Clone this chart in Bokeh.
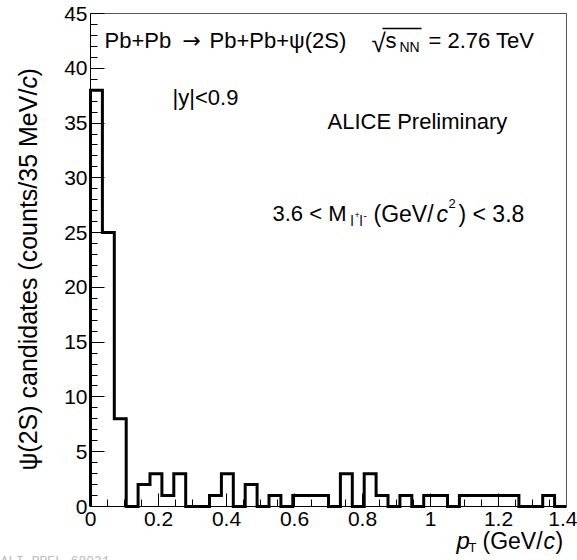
import math
from bokeh.plotting import figure
from bokeh.models import Label, FixedTicker, CustomJSTickFormatter, Range1d, LinearAxis
from bokeh.embed import file_html
from bokeh.resources import INLINE

# ---- data -------------------------------------------------------------
bin_width = 0.035  # GeV/c (35 MeV/c)
counts = [38, 25, 8, 0, 2, 3, 1, 3, 0, 0,
          1, 3, 0, 2, 0, 1, 0, 1, 1, 1,
          0, 3, 0, 3, 1, 0, 1, 0, 1, 1,
          0, 1, 1, 1, 1, 1, 0, 0, 1, 0]
x_major = [0, 0.2, 0.4, 0.6, 0.8, 1.0, 1.2, 1.4]
x_minor = [round(0.05 * i, 3) for i in range(29)]
y_major = [0, 5, 10, 15, 20, 25, 30, 35, 40, 45]
y_minor = list(range(46))
X0, X1, Y0, Y1 = 0.0, 1.4, 0.0, 45.0

# ---- layout: data frame occupies px [90,566] x [13,506] of the canvas ---
W, H = 577, 560
FL, FR, FT, FB = 90, 566, 13, 506
SX = (FR - FL) / (X1 - X0)
SY = (FB - FT) / (Y1 - Y0)
FONT = "Liberation Sans"
YOFF = 8  # Label baseline correction (px)

def dx(px):
    return X0 + (px - FL) / SX

def dy(py):
    return Y0 + (FB - py) / SY

p = figure(width=W, height=H,
           x_range=Range1d(dx(0), dx(W)), y_range=Range1d(dy(H), dy(0)),
           output_backend="svg", toolbar_location=None,
           x_axis_location=None, y_axis_location=None,
           min_border_left=0, min_border_right=0, min_border_top=0, min_border_bottom=0)
p.grid.visible = False
p.background_fill_color = "white"
p.border_fill_color = "white"
p.outline_line_color = None

def style_axis(ax, maj, mino, tin):
    ax.ticker = FixedTicker(ticks=maj, minor_ticks=mino)
    ax.axis_line_color = "black"
    ax.axis_line_width = 1
    ax.major_tick_in = tin
    ax.major_tick_out = 0
    ax.minor_tick_in = 7
    ax.minor_tick_out = 0
    ax.major_tick_line_color = "black"
    ax.minor_tick_line_color = "black"
    ax.major_label_text_font = FONT
    ax.major_label_text_font_size = "21px"
    ax.major_label_text_color = "black"

xaxis = LinearAxis(fixed_location=Y0, bounds=(X0, X1))
style_axis(xaxis, x_major, x_minor, 13)
xaxis.major_label_standoff = 5
xaxis.formatter = CustomJSTickFormatter(code="return (Math.round(tick*10)/10).toString();")
p.add_layout(xaxis, "below")

yaxis = LinearAxis(fixed_location=X0, bounds=(Y0, Y1))
style_axis(yaxis, y_major, y_minor, 14)
yaxis.major_label_standoff = 3
yaxis.formatter = CustomJSTickFormatter(code="return Math.round(tick).toString();")
p.add_layout(yaxis, "left")

# frame top / right edges
for loc, side, bnds in ((Y1, "above", (X0, X1)), (X1, "right", (Y0, Y1))):
    ax = LinearAxis(fixed_location=loc, bounds=bnds, ticker=FixedTicker(ticks=[], minor_ticks=[]))
    ax.axis_line_color = "#555555"
    ax.axis_line_width = 1
    ax.major_label_text_font_size = "0px"
    p.add_layout(ax, side)

# ---- histogram (step outline) -----------------------------------------
xs, ys = [0.0], [0.0]
for i, c in enumerate(counts):
    xs += [i * bin_width, (i + 1) * bin_width]
    ys += [c, c]
xs.append(len(counts) * bin_width)
ys.append(0)
p.line(xs, ys, line_color="black", line_width=3, line_join="miter")

# ---- texts -------------------------------------------------------------
def lab(text, px, py, size=22, style="normal", color="black", angle=0.0, font=FONT, rot=False):
    if rot:
        px = px - YOFF
    else:
        py = py - YOFF
    p.add_layout(Label(x=dx(px), y=dy(py), text=text, text_font=font,
                       text_font_size=f"{size}px", text_font_style=style,
                       text_color=color, text_align="left",
                       text_baseline="alphabetic", angle=angle))

# row 1
lab("Pb+Pb", 104, 48)
lab("\u2192", 182, 48, font="DejaVu Sans")
lab("Pb+Pb+\u03c8(2S)", 209, 48)
lab("\u221a", 371, 50, size=26)
lab("s", 385, 48)
lab("NN", 399, 54, size=14)
lab("= 2.76 TeV", 428, 48)
p.segment(x0=[dx(382)], y0=[dy(28)], x1=[dx(421)], y1=[dy(28)], line_color="black", line_width=1.3)
# rows 2, 3
lab("|y|<0.9", 172, 105)
lab("ALICE Preliminary", 327, 129)
# row 4
lab("3.6 < M", 272, 221)
lab("l", 350, 228, size=14)
lab("+", 354, 222, size=9)
lab("l", 359, 228, size=14)
lab("-", 363, 222, size=10)
lab("(GeV/", 373, 221, size=23)
lab("c", 436, 221, style="italic", size=23)
lab("2", 448, 211, size=13)
lab(") < 3.8", 458, 221, size=23)

# x-axis title
lab("p", 456, 548, style="italic", size=24)
lab("T", 468, 555, size=13)
lab("(GeV/", 482, 548, size=23)
lab("c", 543, 548, style="italic", size=23)
lab(")", 555, 548, size=23)

# y-axis title (rotated)
r90 = math.pi / 2
lab("\u03c8(2S) candidates (counts/35 MeV/", 35, 470, size=25, angle=r90, rot=True)
lab("c", 35, 88, size=25, style="italic", angle=r90, rot=True)
lab(")", 35, 76, size=25, angle=r90, rot=True)

# footer
lab("ALI-PREL-68021", 0, 569, size=13, color="#bbbbbb", font="Liberation Mono")

open("out.html", "w").write(file_html(p, INLINE))
